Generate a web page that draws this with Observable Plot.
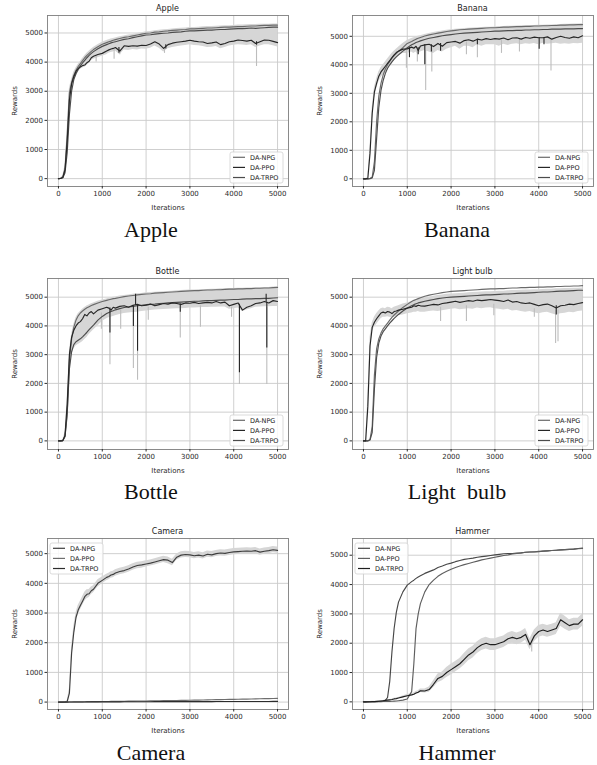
<!DOCTYPE html>
<html><head><meta charset="utf-8">
<script src="https://cdn.jsdelivr.net/npm/d3@7"></script>
<script src="https://cdn.jsdelivr.net/npm/@observablehq/plot@0.6"></script>
<style>
html,body{margin:0;padding:0;background:#fff;}
#root{position:relative;width:597px;height:765px;overflow:hidden;background:#fff;}
.panel{position:absolute;}
.cap{position:absolute;width:200px;text-align:center;font-family:"Liberation Serif",serif;font-size:22px;line-height:22px;color:#111;white-space:pre;}
</style></head><body><div id="root"></div>
<script>
// ---------- shared ----------
const iterations = [0,50,100,150,200,250,300,350,400,450,500,550,600,650,700,750,800,
  900,1000,1100,1150,1200,1250,1300,
  1400,1500,1600,1700,1800,1900,2000,2100,2200,2300,2400,2500,2600,2700,2800,2900,3000,3100,3200,3300,3400,3500,3600,3700,3800,3900,4000,4100,4200,4300,4400,4500,4600,4700,4800,4900,5000];
const xTicks = [0,1000,2000,3000,4000,5000];
const yTicks = [0,1000,2000,3000,4000,5000];
const seriesNames = ["DA-NPG","DA-PPO","DA-TRPO"];
const panelTitles = ["Apple","Banana","Bottle","Light bulb","Camera","Hammer"];
const xLabel = "Iterations", yLabel = "Rewards";

// ---------- Apple ----------
const appleNPG = [0,10,60,350,1500,2950,3300,3550,3720,3850,3950,4050,4150,4230,4300,4370,4430, 4530,4610,4670,4700,4720,4750,4770, 4810,4850,4870,4900,4930,4960,4990,5000,5030,5040,5060,5070,5090,5100,5110,5120,5140,5140,5150,5160,5170,5170,5180,5190,5200,5200,5210,5220,5220,5230,5240,5240,5250,5260,5260,5270,5270];
const applePPO = [0,5,40,300,1300,2700,3250,3500,3680,3780,3830,3880,3900,3980,4030,4150,4200, 4260,4300,4380,4420,4450,4470,4500, 4380,4560,4540,4560,4550,4580,4570,4620,4700,4620,4470,4600,4650,4680,4700,4720,4750,4720,4700,4690,4640,4660,4690,4600,4640,4700,4720,4760,4740,4720,4750,4640,4700,4760,4750,4710,4670];
const appleTRPO = [0,5,30,200,900,2200,3000,3400,3600,3750,3870,3970,4060,4150,4230,4300,4360, 4460,4540,4600,4630,4660,4680,4700, 4740,4780,4800,4840,4870,4900,4930,4940,4960,4980,4990,5000,5020,5030,5040,5060,5070,5070,5080,5090,5100,5100,5110,5120,5120,5130,5140,5150,5150,5160,5170,5160,5170,5180,5190,5200,5200];
const appleBandLo = [0,0,20,150,800,2000,2900,3300,3500,3650,3750,3800,3820,3880,3950,4050,4100, 4150,4200,4250,4300,4330,4350,4380, 4250,4420,4400,4430,4420,4450,4440,4480,4550,4480,4350,4460,4500,4530,4550,4570,4600,4570,4560,4540,4500,4510,4540,4460,4500,4550,4580,4600,4590,4570,4600,4500,4550,4600,4600,4560,4520];
const appleBandHi = [0,20,100,450,1700,3100,3400,3650,3800,3920,4020,4120,4220,4300,4370,4440,4500, 4600,4680,4740,4770,4790,4810,4830, 4870,4900,4930,4950,4980,5010,5040,5050,5080,5090,5110,5120,5140,5150,5160,5170,5190,5190,5200,5210,5220,5220,5230,5240,5250,5250,5260,5270,5270,5280,5290,5290,5300,5300,5300,5310,5310];
const appleDips = [[1380,4500,4300],[2450,4600,4450],[4520,4700,4580]];
const appleNoise = [[860,4200,4000],[1270,4450,4100],[1400,4450,4250],[2420,4500,4300],[4520,4600,3850]];

// ---------- Banana ----------
const bananaNPG = [0,0,0,10,60,600,2000,2900,3350,3650,3850,4000,4120,4230,4320,4400,4470, 4600,4750,4820,4860,4900,4930,4960, 5010,5050,5080,5110,5140,5170,5190,5210,5230,5240,5250,5260,5270,5280,5290,5300,5300,5310,5320,5320,5330,5340,5340,5350,5350,5360,5360,5370,5370,5380,5380,5390,5390,5400,5400,5410,5410];
const bananaPPO = [0,0,20,900,2300,3050,3350,3600,3750,3850,3950,4050,4150,4250,4350,4430,4480, 4550,4560,4620,4580,4650,4500,4660, 4700,4720,4640,4750,4650,4780,4800,4820,4760,4850,4880,4830,4900,4870,4920,4890,4920,4900,4940,4880,4940,4950,4900,4960,4930,4970,4950,4950,4980,4900,4960,5000,4960,4930,4980,4950,5020];
const bananaTRPO = [0,0,0,5,30,300,1400,2500,3100,3450,3700,3880,4000,4100,4200,4280,4350, 4480,4600,4700,4740,4780,4810,4840, 4890,4930,4960,4990,5020,5040,5060,5080,5100,5110,5120,5130,5140,5150,5160,5170,5180,5180,5190,5200,5200,5210,5210,5220,5220,5230,5230,5240,5240,5250,5250,5250,5260,5260,5260,5270,5270];
const bananaBandLo = [0,0,0,600,2000,2800,3150,3400,3550,3650,3700,3800,3920,4030,4130,4220,4300, 4400,4400,4450,4400,4450,4350,4450, 4500,4450,4400,4500,4450,4550,4600,4650,4550,4650,4650,4600,4700,4650,4700,4700,4700,4650,4720,4680,4720,4740,4700,4740,4720,4750,4700,4760,4720,4740,4760,4720,4740,4720,4750,4740,4760];
const bananaBandHi = [0,0,50,1100,2500,3200,3500,3750,3900,4000,4100,4200,4300,4400,4480,4550,4620, 4750,4850,4920,4950,4980,5000,5020, 5060,5100,5130,5160,5190,5210,5230,5250,5260,5270,5280,5290,5300,5310,5320,5320,5330,5340,5340,5350,5350,5360,5370,5370,5380,5380,5390,5390,5400,5400,5410,5410,5420,5420,5430,5430,5440];
const bananaDips = [[1050,4600,4250],[1250,4600,4350],[1400,4700,4000],[1550,4700,4450],[1760,4750,4480],[2600,4900,4700],[4010,4950,4550],[4120,4950,4700]];
const bananaNoise = [[980,4500,3880],[1420,4500,3100],[1560,4600,3750],[1230,4600,4100],[2350,4800,4350],[2600,4850,4250],[3150,4850,4400],[4280,4900,3780],[3560,4900,4450]];

// ---------- Bottle ----------
const bottleNPG = [0,0,10,150,900,2800,3550,3950,4200,4350,4450,4520,4580,4630,4670,4710,4740, 4800,4850,4890,4910,4930,4950,4960, 4990,5020,5040,5060,5080,5100,5110,5120,5140,5150,5160,5170,5180,5190,5200,5210,5220,5230,5230,5240,5250,5250,5260,5260,5270,5280,5280,5290,5290,5300,5300,5310,5310,5320,5320,5330,5340];
const bottlePPO = [0,0,10,200,1300,3000,3600,3850,4000,4100,4150,4250,4400,4350,4450,4500,4420, 4550,4600,4650,4620,4550,4650,4620, 4680,4700,4650,4720,4750,4700,4720,4760,4700,4740,4780,4760,4800,4780,4750,4800,4790,4820,4780,4800,4820,4800,4850,4800,4830,4700,4750,4800,4550,4650,4700,4780,4800,4850,4800,4880,4850];
const bottleTRPO = [0,0,10,150,1000,2500,3100,3350,3450,3500,3550,3620,3700,3780,3870,3950,4030, 4200,4330,4430,4470,4500,4530,4560, 4600,4640,4660,4680,4700,4720,4740,4750,4760,4780,4790,4800,4810,4820,4830,4840,4850,4860,4860,4870,4880,4880,4890,4900,4900,4910,4920,4920,4930,4940,4940,4950,4950,4960,4960,4970,4980];
const bottleBandLo = [0,0,0,100,700,2300,2950,3200,3300,3350,3400,3450,3530,3600,3700,3780,3860, 4000,4150,4250,4280,4300,4330,4350, 4400,4430,4450,4470,4480,4500,4520,4540,4550,4560,4570,4580,4590,4600,4600,4610,4620,4620,4630,4640,4640,4650,4650,4660,4660,4580,4600,4620,4500,4550,4600,4650,4660,4670,4670,4680,4680];
const bottleBandHi = [0,10,30,300,1500,3100,3700,4050,4280,4420,4500,4580,4640,4690,4730,4770,4800, 4860,4900,4940,4960,4980,5000,5010, 5040,5060,5080,5100,5120,5130,5150,5160,5170,5180,5190,5200,5210,5220,5230,5240,5250,5250,5260,5270,5270,5280,5280,5290,5290,5300,5300,5310,5310,5320,5320,5330,5330,5340,5340,5350,5350];
const bottleDips = [[1175,4620,3750],[1710,4700,3980],[1805,4720,3120],[1760,4720,5100],[2780,4760,4480],[4130,4750,2370],[4755,4820,3230],[4740,4820,5100]];
const bottleNoise = [[1175,4500,2650],[1710,4500,2520],[1805,4500,2110],[2780,4600,3580],[4130,4550,1960],[4755,4650,1960],[1420,4550,3880],[980,4450,3880],[2050,4650,4200],[3240,4700,3950],[3950,4650,4300]];

// ---------- Light bulb ----------
const bulbNPG = [0,0,0,50,500,2300,3200,3550,3750,3900,4000,4100,4200,4300,4380,4450,4520, 4640,4750,4850,4890,4920,4950,4980, 5030,5070,5100,5130,5160,5180,5200,5210,5220,5230,5240,5250,5260,5270,5280,5290,5290,5300,5300,5310,5320,5320,5330,5330,5340,5340,5350,5350,5360,5360,5370,5370,5380,5380,5390,5390,5400];
const bulbPPO = [0,0,1200,3300,3950,4130,4250,4350,4450,4480,4450,4500,4480,4430,4500,4520,4550, 4580,4620,4650,4700,4680,4720,4700, 4690,4720,4750,4730,4780,4800,4830,4860,4820,4850,4880,4860,4900,4880,4900,4920,4900,4880,4850,4900,4830,4850,4800,4780,4800,4750,4700,4740,4760,4700,4620,4700,4720,4760,4740,4780,4810];
const bulbTRPO = [0,0,0,30,300,1800,2900,3400,3650,3800,3900,4000,4100,4180,4260,4330,4400, 4520,4620,4700,4740,4770,4800,4820, 4860,4890,4920,4950,4970,4990,5000,5010,5020,5030,5040,5050,5060,5070,5080,5080,5090,5100,5110,5110,5120,5130,5140,5140,5150,5160,5170,5180,5180,5190,5200,5210,5210,5220,5230,5240,5240];
const bulbBandLo = [0,0,900,3000,3800,3950,4050,4150,4250,4300,4300,4320,4300,4280,4300,4320,4350, 4380,4420,4450,4480,4480,4500,4480, 4480,4500,4520,4500,4530,4550,4580,4600,4560,4580,4600,4580,4620,4600,4620,4630,4600,4580,4550,4580,4520,4540,4500,4480,4500,4460,4420,4460,4480,4420,4380,4420,4440,4480,4460,4500,4520];
const bulbBandHi = [0,0,1500,3600,4100,4300,4420,4520,4600,4620,4600,4650,4640,4600,4650,4680,4700, 4760,4800,4850,4880,4900,4930,4950, 4980,5000,5030,5060,5080,5100,5110,5120,5130,5140,5150,5160,5170,5180,5190,5190,5200,5210,5210,5220,5230,5230,5240,5250,5250,5260,5260,5270,5280,5280,5290,5290,5300,5300,5310,5310,5320];
const bulbDips = [[4400,4700,4380]];
const bulbNoise = [[1760,4650,4150],[2350,4700,4150],[2975,4750,4350],[4385,4550,3390],[4440,4550,3450],[3900,4600,4300]];

// ---------- Camera ----------
const cameraNPG = [0,0,0,5,20,300,1650,2350,2850,3100,3250,3400,3550,3630,3650,3750,3800, 4000,4100,4200,4230,4280,4300,4350, 4400,4430,4480,4550,4600,4620,4650,4680,4720,4760,4800,4780,4700,4880,4950,4970,4960,4930,4950,4920,4980,4960,5000,5020,5010,5040,5060,5070,5080,5090,5080,5100,5050,5080,5100,5130,5110];
const cameraPPO = [0,0,0,1,2,3,4,5,6,7,8,9,10,11,12,13,14, 16,18,20,21,22,23,25, 26,28,31,32,35,36,38,41,42,45,47,48,51,53,57,59,62,66,68,71,75,77,81,83,86,90,92,95,99,101,105,108,111,115,118,122,127];
const cameraTRPO = [0,0,0,0,0,1,1,2,2,3,3,4,4,5,5,5,6, 6,7,7,8,8,8,9, 9,10,10,11,11,12,12,12,13,13,14,14,14,15,15,15,16,16,16,17,17,17,18,18,18,18,19,19,19,20,20,20,21,21,21,22,22];
const cameraBandLo = [0,0,0,0,10,150,1450,2150,2700,2950,3100,3250,3400,3480,3520,3620,3680, 3880,3990,4090,4120,4170,4190,4240, 4290,4320,4370,4440,4490,4510,4550,4580,4620,4660,4700,4660,4590,4780,4850,4870,4860,4830,4850,4820,4880,4860,4900,4920,4910,4940,4960,4970,4980,4990,4980,5000,4950,4980,5000,5030,5010];
const cameraBandHi = [0,0,0,10,40,450,1850,2550,3000,3250,3400,3550,3700,3780,3790,3880,3920, 4120,4210,4310,4340,4390,4410,4460, 4510,4540,4590,4660,4710,4730,4760,4790,4830,4870,4910,4890,4810,4990,5060,5080,5070,5040,5060,5030,5090,5070,5110,5130,5120,5150,5170,5180,5190,5200,5190,5210,5160,5190,5210,5240,5220];
const cameraDips = [];
const cameraNoise = [];

// ---------- Hammer ----------
const hammerNPG = [0,0,0,5,5,10,10,15,20,30,50,150,700,1700,2500,3050,3400, 3750,3980,4100,4150,4210,4260,4300, 4380,4440,4500,4580,4630,4690,4730,4780,4820,4860,4880,4900,4930,4950,4970,4990,5010,5030,5050,5060,5060,5070,5080,5100,5110,5110,5120,5140,5150,5160,5170,5180,5190,5200,5210,5230,5240];
const hammerPPO = [0,0,0,2,3,5,6,8,10,12,14,16,18,20,25,30,40, 60,100,350,1300,2500,3000,3350, 3750,4000,4150,4280,4380,4450,4520,4580,4630,4680,4720,4760,4800,4840,4870,4900,4930,4960,4990,5010,5040,5060,5080,5100,5110,5120,5130,5140,5150,5160,5170,5180,5190,5200,5210,5220,5230];
const hammerTRPO = [0,0,5,5,10,10,15,20,30,40,50,60,70,80,100,110,130, 170,210,240,260,300,330,380, 370,420,600,800,870,1000,1100,1200,1300,1450,1600,1700,1850,1950,2000,1950,1950,2000,2050,2150,2200,2150,2200,2300,1950,2250,2400,2450,2400,2450,2500,2800,2700,2600,2650,2650,2800];
const hammerBandLo = [0,0,0,0,0,0,5,10,20,30,40,50,60,70,80,90,110, 140,170,200,220,250,280,320, 300,330,480,650,720,830,920,1020,1120,1250,1400,1500,1650,1750,1800,1750,1750,1800,1850,1950,2000,1950,2000,2100,1780,2050,2200,2250,2200,2250,2300,2580,2480,2400,2450,2450,2580];
const hammerBandHi = [0,0,10,10,20,20,25,30,40,50,60,70,80,90,120,130,150, 200,250,280,300,350,380,440, 440,510,720,950,1020,1170,1280,1380,1480,1650,1800,1900,2050,2150,2200,2150,2150,2200,2250,2350,2400,2350,2400,2500,2150,2450,2600,2650,2600,2650,2700,3020,2920,2800,2850,2850,3000];
const hammerDips = [];
const hammerNoise = [[3840,2100,1700]];

// ---------- panel table ----------
const greysA = {npg:"#6a6a6a", ppo:"#262626", trpo:"#4c4c4c"};
const greysB = {npg:"#3e3e3e", ppo:"#6e6e6e", trpo:"#2c2c2c"};
const greysC = {npg:"#474747", ppo:"#5e5e5e", trpo:"#1e1e1e"};
const panels = [
  {title:panelTitles[0], npg:appleNPG, ppo:applePPO, trpo:appleTRPO, lo:appleBandLo, hi:appleBandHi, dips:appleDips, noise:appleNoise, yDomain:[-270,5600], col:0, row:0, legend:"lr", grey:greysA, order:["npg","trpo","ppo"]},
  {title:panelTitles[1], npg:bananaNPG, ppo:bananaPPO, trpo:bananaTRPO, lo:bananaBandLo, hi:bananaBandHi, dips:bananaDips, noise:bananaNoise, yDomain:[-270,5730], col:1, row:0, legend:"lr", grey:greysA, order:["npg","trpo","ppo"]},
  {title:panelTitles[2], npg:bottleNPG, ppo:bottlePPO, trpo:bottleTRPO, lo:bottleBandLo, hi:bottleBandHi, dips:bottleDips, noise:bottleNoise, yDomain:[-300,5650], col:0, row:1, legend:"lr", grey:greysA, order:["npg","trpo","ppo"]},
  {title:panelTitles[3], npg:bulbNPG, ppo:bulbPPO, trpo:bulbTRPO, lo:bulbBandLo, hi:bulbBandHi, dips:bulbDips, noise:bulbNoise, yDomain:[-300,5650], col:1, row:1, legend:"lr", grey:greysA, order:["npg","trpo","ppo"]},
  {title:panelTitles[4], npg:cameraNPG, ppo:cameraPPO, trpo:cameraTRPO, lo:cameraBandLo, hi:cameraBandHi, dips:cameraDips, noise:cameraNoise, yDomain:[-250,5510], col:0, row:2, legend:"ul", grey:greysB, order:["ppo","trpo","npg"]},
  {title:panelTitles[5], npg:hammerNPG, ppo:hammerPPO, trpo:hammerTRPO, lo:hammerBandLo, hi:hammerBandHi, dips:hammerDips, noise:hammerNoise, yDomain:[-260,5570], col:1, row:2, legend:"ul", grey:greysC, order:["npg","ppo","trpo"]}
];
const captionBaselines = [237, 499, 760];
const captionCenters = [151, 457];

const root = document.getElementById("root");
const W = 300, FRAME_H = 171;
const rowFrameTop = [15, 278, 538];
const FONT = "'DejaVu Sans', sans-serif";

panels.forEach(p => {
  for (const k of ["npg","ppo","trpo","lo","hi"]) {
    if (p[k].length !== iterations.length) throw new Error(p.title + " " + k + " length " + p[k].length);
  }
  const rows = iterations.map((x, i) => ({x, npg:p.npg[i], ppo:p.ppo[i], trpo:p.trpo[i], lo:p.lo[i], hi:p.hi[i]}));
  const mL = p.col === 0 ? 47 : 55;
  const mR = p.col === 0 ? 12 : 4;
  const mT = 16, mB = 28;
  const H = mT + FRAME_H + mB;
  const seriesMarks = p.order.map(k => Plot.lineY(rows, {x:"x", y:k, stroke:p.grey[k], strokeWidth:1.15, clip:true}));
  const plot = Plot.plot({
    width: W, height: H,
    marginLeft: mL, marginRight: mR, marginTop: mT, marginBottom: mB,
    style: {fontFamily:FONT, fontSize:"7px", color:"#2a2a2a", background:"transparent"},
    x: {domain:[-250,5250]},
    y: {domain:p.yDomain},
    marks: [
      Plot.gridX(xTicks, {stroke:"#c9c9c9", strokeOpacity:1, strokeWidth:0.9}),
      Plot.gridY(yTicks, {stroke:"#c9c9c9", strokeOpacity:1, strokeWidth:0.9}),
      Plot.areaY(rows, {x:"x", y1:"lo", y2:"hi", fill:"#d6d6d6", fillOpacity:1, clip:true}),
      Plot.ruleX(p.noise, {x:d=>d[0], y1:d=>d[1], y2:d=>d[2], stroke:"#bdbdbd", strokeWidth:1.1, clip:true}),
      ...seriesMarks,
      Plot.ruleX(p.dips, {x:d=>d[0], y1:d=>d[1], y2:d=>d[2], stroke:p.grey.ppo, strokeWidth:1.1, clip:true}),
      Plot.frame({stroke:"#7e7e7e", strokeWidth:0.9}),
      Plot.axisX({ticks:xTicks, tickFormat:"d", tickSize:2.5, tickPadding:2, fontSize:7, label:xLabel, labelAnchor:"center", labelArrow:"none", labelOffset:23}),
      Plot.axisY({ticks:yTicks, tickFormat:"d", tickSize:2.5, tickPadding:2, fontSize:7, label:yLabel, labelAnchor:"center", labelArrow:"none", labelOffset:35})
    ]
  });
  const sx = plot.scale("x").range, sy = plot.scale("y").range;
  const left = Math.min(...sx), right = Math.max(...sx), top = Math.min(...sy), bottom = Math.max(...sy);
  const svg = d3.select(plot);
  svg.append("text").attr("x", (left+right)/2).attr("y", top - 4).attr("text-anchor","middle")
     .attr("font-size", 8).attr("fill","#222").attr("font-family",FONT).text(p.title);
  // legend
  const lw = 53, lh = 31;
  const lx = p.legend === "lr" ? right - 5 - lw : left + 3;
  const ly = p.legend === "lr" ? bottom - 3 - lh : top + 5;
  const g = svg.append("g").attr("transform", `translate(${lx},${ly})`).attr("text-anchor","start");
  g.append("rect").attr("width", lw).attr("height", lh).attr("rx", 2)
    .attr("fill","#fff").attr("fill-opacity",0.85).attr("stroke","#d2d2d2").attr("stroke-width",0.8);
  ["npg","ppo","trpo"].forEach((k, i) => {
    const cy = 5.3 + i*10.1;
    g.append("line").attr("x1",3).attr("x2",15).attr("y1",cy).attr("y2",cy).attr("stroke",p.grey[k]).attr("stroke-width",1.2);
    g.append("text").attr("x",20).attr("y",cy).attr("dy","0.35em").attr("text-anchor","start").attr("font-size",6.5).attr("fill","#222")
      .attr("font-family",FONT).text(seriesNames[i]);
  });
  const wrap = document.createElement("div");
  wrap.className = "panel";
  wrap.style.left = (p.col === 0 ? 0 : 297) + "px";
  wrap.style.top = (rowFrameTop[p.row] - mT) + "px";
  wrap.appendChild(plot);
  root.appendChild(wrap);
  // caption
  const cap = document.createElement("div");
  cap.className = "cap";
  cap.textContent = p.title;
  if (p.title === "Light bulb") cap.style.wordSpacing = "6px";
  cap.style.left = (captionCenters[p.col] - 100) + "px";
  cap.style.top = (captionBaselines[p.row] - 18.4) + "px";
  root.appendChild(cap);
});
</script>
</body></html>
